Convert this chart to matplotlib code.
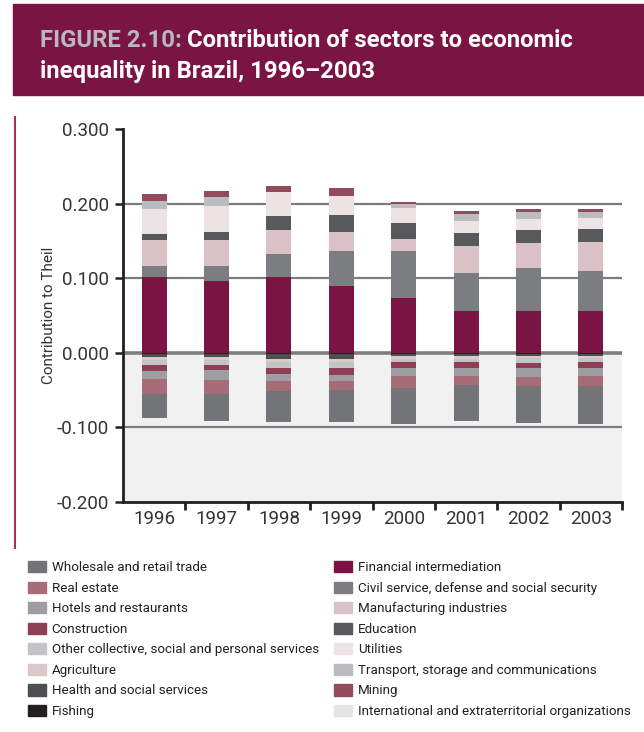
import matplotlib
matplotlib.use("Agg")
import matplotlib.pyplot as plt
from matplotlib import font_manager
from matplotlib.patches import Patch, Rectangle
from matplotlib.lines import Line2D
import numpy as np

# pick a condensed-looking font if one is around
names = {f.name for f in font_manager.fontManager.ttflist}
FONT = 'Liberation Sans Narrow' if 'Liberation Sans Narrow' in names else 'Roboto'
plt.rcParams['font.family'] = [FONT, 'DejaVu Sans']

years = ['1996', '1997', '1998', '1999', '2000', '2001', '2002', '2003']

# sectors with a positive contribution (stacked upward from 0)
financial = [0.101, 0.096, 0.101, 0.090, 0.073, 0.0555, 0.0555, 0.0555]
civil_service = [0.015, 0.021, 0.031, 0.046, 0.064, 0.052, 0.058, 0.054]
manufacturing = [0.035, 0.034, 0.032, 0.026, 0.016, 0.036, 0.034, 0.039]
education = [0.008, 0.011, 0.020, 0.023, 0.021, 0.017, 0.017, 0.017]
utilities = [0.034, 0.035, 0.031, 0.025, 0.020, 0.016, 0.015, 0.015]
transport = [0.011, 0.012, 0.0, 0.0, 0.005, 0.009, 0.009, 0.008]
mining = [0.009, 0.008, 0.008, 0.011, 0.003, 0.004, 0.004, 0.004]
international = [0.0, 0.0, 0.0, 0.0, 0.0, 0.0, 0.0, 0.0]

# sectors with a negative contribution (stacked downward from 0)
fishing = [-0.001, -0.001, -0.002, -0.002, -0.001, -0.001, -0.001, -0.001]
health = [-0.004, -0.004, -0.006, -0.006, -0.003, -0.003, -0.003, -0.003]
agriculture = [-0.004, -0.004, -0.004, -0.005, -0.004, -0.004, -0.003, -0.003]
other_services = [-0.007, -0.007, -0.008, -0.008, -0.004, -0.005, -0.007, -0.005]
construction = [-0.008, -0.007, -0.009, -0.009, -0.008, -0.007, -0.007, -0.008]
hotels = [-0.011, -0.013, -0.009, -0.008, -0.011, -0.011, -0.011, -0.011]
real_estate = [-0.020, -0.019, -0.013, -0.012, -0.016, -0.012, -0.012, -0.013]
wholesale = [-0.032, -0.036, -0.042, -0.043, -0.048, -0.048, -0.050, -0.051]

positive = [
    ('Financial intermediation', financial, '#7a1442'),
    ('Civil service, defense and social security', civil_service, '#7c7d80'),
    ('Manufacturing industries', manufacturing, '#d9c1c5'),
    ('Education', education, '#58595b'),
    ('Utilities', utilities, '#ede2e4'),
    ('Transport, storage and communications', transport, '#bbbcbf'),
    ('Mining', mining, '#934a5c'),
    ('International and extraterritorial organizations', international, '#e5e5e5'),
]
negative = [
    ('Fishing', fishing, '#231f20'),
    ('Health and social services', health, '#4d4e50'),
    ('Agriculture', agriculture, '#dcc8cb'),
    ('Other collective, social and personal services', other_services, '#c3c4c5'),
    ('Construction', construction, '#8e3f56'),
    ('Hotels and restaurants', hotels, '#9d9ea1'),
    ('Real estate', real_estate, '#a66d76'),
    ('Wholesale and retail trade', wholesale, '#737477'),
]

W, H = 644, 732
fig = plt.figure(figsize=(W / 100, H / 100), dpi=100)

# header band
fig.patches.append(Rectangle((13 / W, 1 - 95 / H), 1 - 13 / W, 91 / H,
                             transform=fig.transFigure, color='#7a1442', zorder=0))
t1 = fig.text(40 / W, 1 - 47 / H, 'FIGURE 2.10:', color='#b8b9bc', fontsize=17.2,
              fontweight='bold', va='baseline', ha='left')
fig.canvas.draw()
bb = t1.get_window_extent(renderer=fig.canvas.get_renderer())
fig.text((bb.x1 + 5) / W, 1 - 47 / H, 'Contribution of sectors to economic', color='white',
         fontsize=17.2, fontweight='bold', va='baseline', ha='left')
fig.text(40 / W, 1 - 78 / H, 'inequality in Brazil, 1996\u20132003', color='white',
         fontsize=17.2, fontweight='bold', va='baseline', ha='left')

# thin vertical rule on the left
fig.add_artist(Line2D([15 / W, 15 / W], [1 - 117 / H, 1 - 548 / H],
                      transform=fig.transFigure, color='#a3325f', lw=1.5))

ax = fig.add_axes([123 / W, 1 - 502 / H, (622 - 123) / W, (502 - 129) / H])
x = np.arange(len(years))
width = 0.40

ax.axhspan(-0.2, 0, color='#f1f1f1', zorder=0, lw=0)
for yv in [0.2, 0.1, -0.1]:
    ax.axhline(yv, color='#7d7d7d', lw=1.6, zorder=1)
ax.axhline(0, color='#7d7d7d', lw=2.6, zorder=1)

bottom = np.zeros(len(years))
for label, vals, color in positive:
    vals = np.array(vals)
    ax.bar(x, vals, width, bottom=bottom, color=color, label=label, zorder=2, lw=0)
    bottom += vals
bottom = np.zeros(len(years))
for label, vals, color in negative:
    vals = np.array(vals)
    ax.bar(x, vals, width, bottom=bottom, color=color, label=label, zorder=2, lw=0)
    bottom += vals

ax.set_xlim(-0.5, len(years) - 0.5)
ax.set_ylim(-0.2, 0.3)
ax.set_yticks([-0.2, -0.1, 0.0, 0.1, 0.2, 0.3])
ax.set_yticklabels(['-0.200', '-0.100', '0.000', '0.100', '0.200', '0.300'])
ax.set_xticks(x)
ax.set_xticklabels(years)
ax.set_xticks(np.arange(len(years)) + 0.5, minor=True)
ax.tick_params(axis='x', which='major', length=0, labelsize=13.5, colors='#333333', pad=6)
ax.tick_params(axis='x', which='minor', length=6, width=2, color='#231f20', direction='out')
ax.tick_params(axis='y', length=6, width=1.8, color='#231f20', labelsize=13.5,
               labelcolor='#333333', pad=4)
for s in ['top', 'right']:
    ax.spines[s].set_visible(False)
for s in ['left', 'bottom']:
    ax.spines[s].set_linewidth(2)
    ax.spines[s].set_color('#231f20')
ax.set_ylabel('Contribution to Theil', fontsize=11, color='#333333')
ax.yaxis.set_label_coords(-0.135, 0.50)

# legend: left column = negative sectors (bottom to top), right = positive
left_items = [(l, c) for l, v, c in reversed(negative)]
right_items = [(l, c) for l, v, c in positive]
common = dict(frameon=False, fontsize=9.6, handlelength=1.38, handleheight=0.92,
              handletextpad=0.4, labelspacing=0.55, borderpad=0, borderaxespad=0,
              loc='upper left', labelcolor='#231f20')
fig.legend([Patch(color=c) for l, c in left_items], [l for l, c in left_items],
           bbox_to_anchor=(28 / W, 1 - 561 / H), **common)
fig.legend([Patch(color=c) for l, c in right_items], [l for l, c in right_items],
           bbox_to_anchor=(334 / W, 1 - 561 / H), **common)

fig.savefig('out.png', dpi=100)
